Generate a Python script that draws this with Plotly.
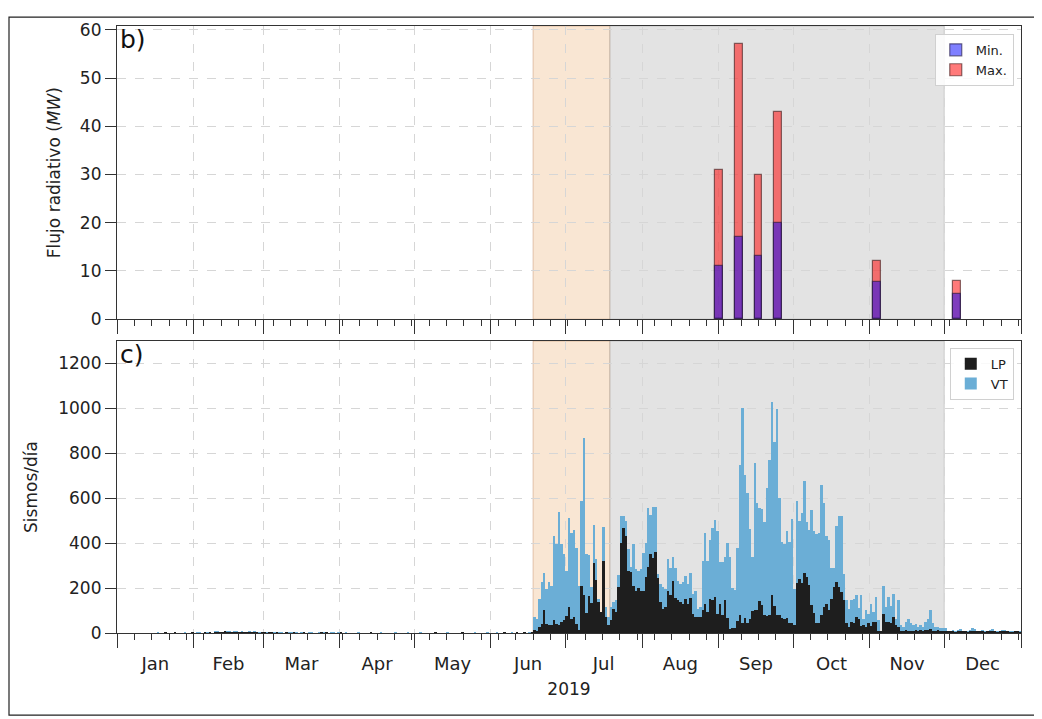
import pandas as pd
import plotly.graph_objects as go

# ---------------- data ----------------
flux_dates = ["2019-09-01", "2019-09-09", "2019-09-17", "2019-09-25", "2019-11-04", "2019-12-06"]
flux_max = [31, 57, 30, 43, 12, 8]
flux_min = [11, 17, 13, 20, 7.7, 5.3]

vt_jan = [0,0,0,0,0,0,0,0,0,0,0,0,0,0,0,0,1,0,0,1,0,0,0,2,0,0,0,1,0,0,2]
vt_feb = [0,2,1,0,3,2,4,0,5,6,3,4,8,5,6,4,7,5,3,6,2,4,5,3,6,4,2,3]
vt_mar = [3,2,4,3,2,3,1,2,0,3,2,1,2,3,0,1,2,0,1,2,0,0,1,2,1,3,0,1,2,0,1]
vt_apr = [0,0,1,0,0,0,0,1,0,0,0,0,2,0,0,0,1,0,0,0,0,0,1,0,0,0,0,1,0,0]
vt_may = [0,0,1,0,0,0,0,0,1,0,0,0,0,1,0,0,0,0,0,2,0,0,0,0,1,0,0,0,0,1,0]
vt_jun = [0,0,1,0,0,2,0,0,1,0,3,0,0,2,0,1,4,69,60,152,228,265,196,228,211,431,394,538,394,352]
vt_jul = [274,511,445,460,380,207,589,866,352,345,204,479,328,152,86,470,116,72,116,138,145,259,519,519,500,372,295,394,284,277,284]
vt_aug = [357,401,558,526,563,563,262,218,204,196,328,291,338,289,233,218,225,255,218,265,174,186,108,116,321,445,321,416,467,504,453]
vt_sep = [314,316,338,400,338,199,192,379,749,1001,705,624,463,338,756,580,558,551,492,646,771,1027,851,998,602,404,397,456,404,507]
vt_oct = [195,588,500,536,676,492,459,546,456,440,445,658,577,431,416,291,290,475,519,519,262,148,108,145,152,171,113,167,64,101,86]
vt_nov = [127,94,160,57,6,211,116,160,119,174,64,145,35,28,50,60,45,35,42,28,35,28,50,60,104,43,28,28,21,22]
vt_dec = [21,8,10,14,6,12,18,10,8,6,15,20,16,10,8,12,7,10,12,16,8,6,10,12,14,8,6,5,8,10,6]

lp_jan = [0,0,0,0,0,0,0,0,0,0,0,0,0,0,0,0,0,0,0,1,0,0,0,1,0,0,0,0,0,0,1]
lp_feb = [0,0,0,0,1,0,2,0,3,4,2,1,5,3,4,2,3,4,2,3,1,2,2,1,2,1,0,1]
lp_mar = [1,0,1,1,0,1,0,0,0,1,0,0,1,0,0,0,1,0,0,0,0,0,0,1,0,1,0,0,0,0,0]
lp_apr = [2,0,0,0,0,0,0,0,0,0,0,0,1,0,0,0,0,0,0,0,0,0,0,0,0,0,0,0,0,0]
lp_may = [0,0,0,0,0,0,0,0,1,0,0,0,0,0,0,0,0,0,0,1,0,0,0,0,0,0,0,0,0,0,0]
lp_jun = [0,0,0,0,0,1,0,0,0,0,1,0,0,1,0,0,2,13,10,25,40,101,40,35,35,57,40,35,50,57]
lp_jul = [75,116,60,72,42,13,207,167,89,163,133,313,236,140,95,321,72,35,57,108,95,203,401,467,431,277,270,211,189,201,186]
lp_aug = [189,248,295,350,335,362,245,138,108,116,189,167,233,157,145,138,127,152,127,157,86,72,69,72,104,130,94,152,145,160,84]
lp_sep = [130,82,148,67,16,23,23,53,82,45,67,45,60,97,104,104,141,126,82,75,82,170,119,82,82,67,60,67,45,45]
lp_oct = [34,221,239,221,265,250,214,126,90,45,45,79,116,130,101,152,204,226,204,182,145,43,28,50,43,72,64,31,35,28,43]
lp_nov = [31,50,50,6,10,86,50,50,43,72,35,28,6,10,13,10,10,6,13,6,13,10,15,12,18,10,8,12,6,10]
lp_dec = [8,5,6,8,4,6,8,5,6,4,8,10,8,6,5,6,4,6,8,6,5,4,6,6,8,5,4,3,5,6,4]

month_ticks_start = "2019-01-01"
orange_period = ("2019-06-18", "2019-07-19")
gray_period = ("2019-07-19", "2019-12-01")

vt = vt_jan + vt_feb + vt_mar + vt_apr + vt_may + vt_jun + vt_jul + vt_aug + vt_sep + vt_oct + vt_nov + vt_dec
lp = lp_jan + lp_feb + lp_mar + lp_apr + lp_may + lp_jun + lp_jul + lp_aug + lp_sep + lp_oct + lp_nov + lp_dec
days = pd.date_range("2019-01-01", periods=len(vt), freq="D") + pd.Timedelta(hours=12)

DAY = 86400000
FONT = "DejaVu Sans"

# page body has an 8px margin: plot area should land at x 117..1021, y 20..633 on screen
OFF = 8
L, T, PW, PH = 117 - OFF, 20 - OFF, 904, 613
R = 21
B = 719 - OFF - T - PH
W = L + PW + R

fig = go.Figure()

# ---- top panel: radiative flux ----
fig.add_trace(go.Bar(
    x=flux_dates, y=flux_max, name="Max.", width=3.2 * DAY,
    marker=dict(color="rgba(255,0,0,0.52)", line=dict(color="rgba(60,20,20,0.6)", width=1.2)),
    xaxis="x", yaxis="y", legend="legend"))
fig.add_trace(go.Bar(
    x=flux_dates, y=flux_min, name="Min.", width=3.2 * DAY,
    marker=dict(color="rgba(0,0,255,0.5)", line=dict(color="rgba(30,20,60,0.6)", width=1.2)),
    xaxis="x", yaxis="y", legend="legend"))

# ---- bottom panel: earthquakes ----
fig.add_trace(go.Bar(
    x=days, y=vt, name="VT", width=DAY,
    marker=dict(color="#6baed6", line=dict(width=0)),
    xaxis="x2", yaxis="y2", legend="legend2"))
fig.add_trace(go.Bar(
    x=days, y=lp, name="LP", width=DAY,
    marker=dict(color="#1e1e1e", line=dict(width=0)),
    xaxis="x2", yaxis="y2", legend="legend2"))

# ---- shaded periods ----
for xr, yr in (("x", "y"), ("x2", "y2")):
    fig.add_shape(type="rect", xref=xr, yref=yr + " domain", x0=orange_period[0], x1=orange_period[1],
                  y0=0, y1=1, fillcolor="rgba(240,190,140,0.38)", line=dict(color="rgba(200,150,110,0.5)", width=1),
                  layer="below")
    fig.add_shape(type="rect", xref=xr, yref=yr + " domain", x0=gray_period[0], x1=gray_period[1],
                  y0=0, y1=1, fillcolor="rgba(200,200,200,0.5)", line=dict(color="rgba(170,170,170,0.5)", width=1),
                  layer="below")

# outer frame (screen px -> paper coords)
fig.add_shape(type="rect", xref="paper", yref="paper",
              x0=(9 - 117) / PW, x1=(1040 - 117) / PW,
              y0=(633 - 716) / PH, y1=(633 - 11) / PH,
              line=dict(color="#222", width=1.2), fillcolor="rgba(0,0,0,0)")

xcommon = dict(
    type="date", range=["2019-01-01", "2020-01-01"], dtick="M1", tick0=month_ticks_start,
    ticks="outside", ticklen=14, tickwidth=1.3, tickcolor="#333",
    showline=True, linecolor="#333", linewidth=1.2, mirror=True,
    showgrid=True, gridcolor="#d6d6d6", griddash="dash", gridwidth=1,
    minor=dict(dtick=7 * DAY, tick0="2019-01-01", ticks="outside", ticklen=6,
               tickcolor="#333", tickwidth=1, showgrid=False),
    tickfont=dict(family=FONT, size=18, color="#222"),
)
ycommon = dict(
    ticks="outside", ticklen=11, tickwidth=1.2, tickcolor="#333",
    showline=True, linecolor="#333", linewidth=1.2, mirror=True,
    showgrid=True, gridcolor="#d6d6d6", griddash="dash", gridwidth=1,
    zeroline=False, tickfont=dict(family=FONT, size=17, color="#222"),
)

fig.update_layout(
    width=W, height=T + PH + B,
    margin=dict(l=L, r=R, t=T, b=B),
    paper_bgcolor="white", plot_bgcolor="white",
    barmode="overlay", bargap=0,
    font=dict(family=FONT, size=16, color="#222"),
    xaxis=dict(**xcommon, anchor="y", showticklabels=False),
    yaxis=dict(**ycommon, domain=[0.517, 1.0], range=[0, 60.8], dtick=10,
               title=dict(text="Flujo radiativo (<i>MW</i>)", font=dict(family=FONT, size=17), standoff=14)),
    xaxis2=dict(**xcommon, anchor="y2", matches="x", ticklabelmode="period", tickformat="%b",
                title=dict(text="2019", font=dict(family=FONT, size=17), standoff=10)),
    yaxis2=dict(**ycommon, domain=[0.0, 0.481], range=[0, 1300], dtick=200,
                title=dict(text="Sismos/día", font=dict(family=FONT, size=17), standoff=16)),
    legend=dict(x=0.992, y=0.987, xanchor="right", yanchor="top", traceorder="reversed",
                bgcolor="rgba(255,255,255,0.85)", bordercolor="#d0d0d0", borderwidth=1,
                font=dict(family=FONT, size=13)),
    legend2=dict(x=0.992, y=0.47, xanchor="right", yanchor="top", traceorder="reversed",
                 bgcolor="rgba(255,255,255,0.85)", bordercolor="#d0d0d0", borderwidth=1,
                 font=dict(family=FONT, size=13)),
    annotations=[
        dict(text="b)", xref="x domain", yref="y domain", x=0.001, y=1.01, xanchor="left", yanchor="top",
             showarrow=False, font=dict(family=FONT, size=25, color="#111")),
        dict(text="c)", xref="x2 domain", yref="y2 domain", x=0.001, y=1.01, xanchor="left", yanchor="top",
             showarrow=False, font=dict(family=FONT, size=25, color="#111")),
    ],
)

fig.write_html("out.html")
